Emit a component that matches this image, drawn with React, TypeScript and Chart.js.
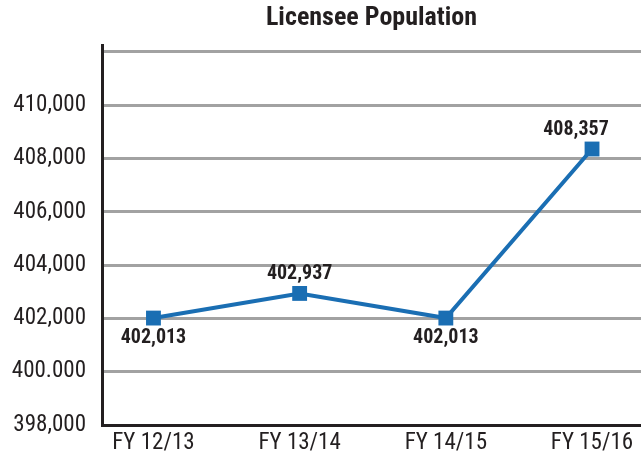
import React, { useEffect, useRef } from "react";
import { Chart, registerables } from "chart.js";

Chart.register(...registerables);

const categories = ["FY 12/13", "FY 13/14", "FY 14/15", "FY 15/16"];
const licensees = [402013, 402937, 402013, 408357];
const yTickValues = [398000, 400000, 402000, 404000, 406000, 408000, 410000, 412000];
const yTickLabels = ["398,000", "400.000", "402,000", "404,000", "406,000", "408,000", "410,000", ""];
const labelSide = ["below", "above", "below", "above"];
const labelShiftX = [0, 0, 0, -16];

const COND = "'Roboto Condensed', 'Liberation Sans', sans-serif";
const TEXT = "#231f20";
const BLUE = "#1a6eb3";

const dataLabelPlugin = {
  id: "pointValueLabels",
  afterDatasetsDraw(chart: any) {
    const meta = chart.getDatasetMeta(0);
    const ctx = chart.ctx;
    ctx.save();
    ctx.font = `bold 20px ${COND}`;
    ctx.fillStyle = TEXT;
    ctx.textAlign = "center";
    ctx.textBaseline = "middle";
    meta.data.forEach((pt: any, i: number) => {
      const txt = licensees[i].toLocaleString("en-US");
      const dy = labelSide[i] === "above" ? -19 : 20;
      ctx.fillText(txt, pt.x + labelShiftX[i], pt.y + dy);
    });
    ctx.restore();
  },
};

export default function App() {
  const ref = useRef<HTMLCanvasElement | null>(null);

  useEffect(() => {
    if (!ref.current) return;
    const chart = new Chart(ref.current, {
      type: "line",
      data: {
        datasets: [
          {
            label: "Licensee Population",
            data: licensees.map((v, i) => ({ x: i, y: v })),
            borderColor: BLUE,
            backgroundColor: BLUE,
            borderWidth: 4,
            tension: 0,
            pointStyle: "rect",
            pointRadius: 10.5,
            pointHoverRadius: 10.5,
            pointBorderWidth: 0,
            clip: false as any,
          },
        ],
      },
      options: {
        responsive: false,
        animation: false,
        layout: { padding: 0, autoPadding: false },
        plugins: {
          legend: { display: false },
          tooltip: { enabled: false },
          title: {
            display: true,
            text: "Licensee Population",
            fullSize: false,
            color: TEXT,
            font: { family: COND, size: 26, weight: "bold", lineHeight: 1.2 },
            padding: { top: 3, bottom: 10.8 },
          },
        },
        scales: {
          x: {
            type: "linear",
            min: -0.352,
            max: 3.335,
            grid: { display: false, drawTicks: false },
            border: { display: true, color: TEXT, width: 3 },
            afterBuildTicks: (s: any) => {
              s.ticks = categories.map((_, i) => ({ value: i }));
            },
            afterFit: (s: any) => {
              s.height = 35;
              s.paddingLeft = 0;
              s.paddingRight = 0;
            },
            ticks: {
              autoSkip: false,
              maxRotation: 0,
              padding: 4,
              color: TEXT,
              font: { family: COND, size: 23 },
              callback: (v: any) => categories[Math.round(Number(v))] ?? "",
            },
          },
          y: {
            type: "linear",
            min: 398000,
            max: 412260,
            grid: {
              drawTicks: false,
              lineWidth: 3,
              color: (c: any) => (c.tick && c.tick.value === 398000 ? "rgba(0,0,0,0)" : "#a2a2a2"),
            },
            border: { display: true, color: TEXT, width: 3 },
            afterBuildTicks: (s: any) => {
              s.ticks = yTickValues.map((v) => ({ value: v }));
            },
            afterFit: (s: any) => {
              s.width = 102;
              s.paddingTop = 0;
              s.paddingBottom = 0;
            },
            ticks: {
              padding: 16,
              color: TEXT,
              font: { family: COND, size: 23 },
              callback: (_v: any, i: number) => yTickLabels[i],
            },
          },
        },
      },
      plugins: [dataLabelPlugin],
    });
    return () => chart.destroy();
  }, []);

  return (
    <div style={{ position: "absolute", left: 0, top: 0, width: 641, height: 460, background: "#fff" }}>
      <canvas ref={ref} width={641} height={460} style={{ display: "block" }} />
    </div>
  );
}
